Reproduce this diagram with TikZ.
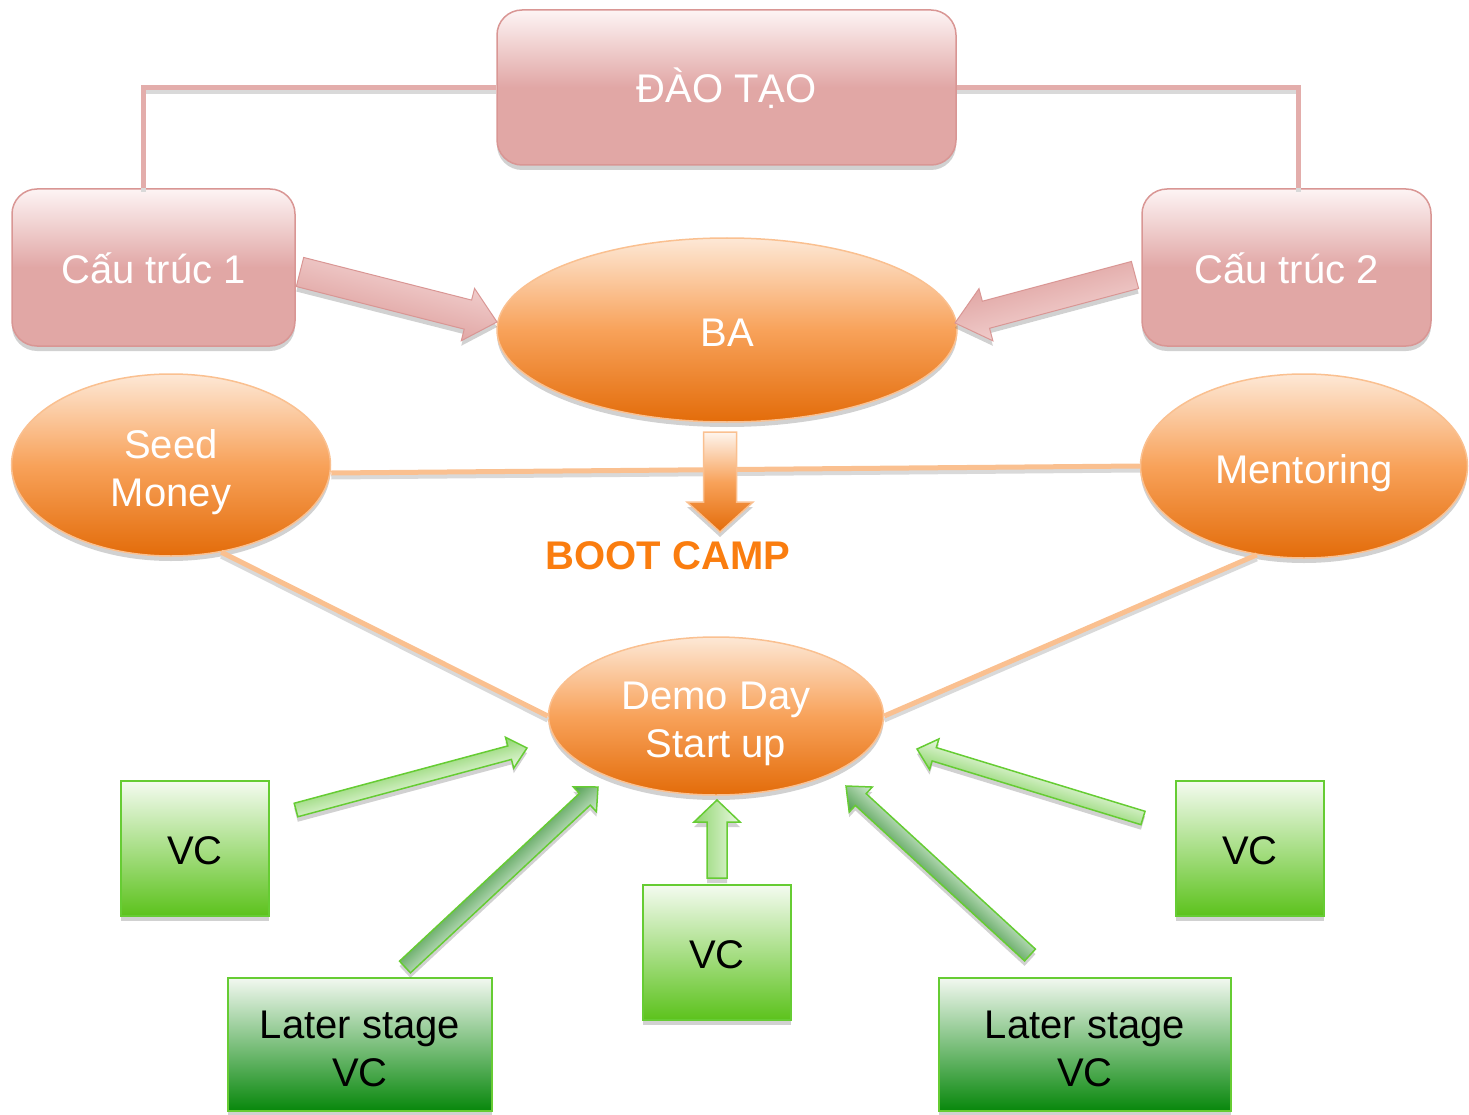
\documentclass[tikz,border=0pt]{standalone}
\usepackage{fontspec}
\setmainfont{Liberation Sans}
\usetikzlibrary{shapes.geometric,shadows,calc}
\definecolor{pinkB}{HTML}{E1A7A5}
\definecolor{pinkT}{HTML}{FDF4F4}
\definecolor{pinkD}{HTML}{D99694}
\definecolor{pinkL}{HTML}{E3ADAB}
\definecolor{pinkA}{HTML}{F0CCCB}
\definecolor{orT}{HTML}{FDE8D6}
\definecolor{orM}{HTML}{F8A25A}
\definecolor{orB}{HTML}{E36C0A}
\definecolor{orL}{HTML}{FAC090}
\definecolor{orA}{HTML}{FEF5EE}
\definecolor{bootc}{HTML}{FA7D0F}
\definecolor{grT}{HTML}{F4FBF0}
\definecolor{grB}{HTML}{5CC21C}
\definecolor{grL}{HTML}{66CC33}
\definecolor{grAD}{HTML}{8ED56D}
\definecolor{grAL}{HTML}{EAF8E2}
\definecolor{dgT}{HTML}{F2F8F0}
\definecolor{dgB}{HTML}{07870B}
\definecolor{dgAD}{HTML}{4F9D4F}
\definecolor{dgAL}{HTML}{D2EAD2}
\pgfdeclareverticalshading{pinkshade}{100bp}{color(0bp)=(pinkB); color(50bp)=(pinkB); color(75bp)=(pinkT); color(100bp)=(pinkT)}
% block arrow: style, start, end, half shaft, half head, head length
\newcommand{\blkarrow}[6]{%
  \pgfpointdiff{\pgfpointanchor{#2}{center}}{\pgfpointanchor{#3}{center}}%
  \pgfgetlastxy{\bdx}{\bdy}%
  \pgfmathsetmacro{\bang}{atan2(\bdy,\bdx)}%
  \pgfmathsetmacro{\blen}{veclen(\bdx,\bdy)}%
  \pgfmathsetmacro{\bhb}{\blen-#6}%
  \pgfmathsetmacro{\bsx}{-5*sin(\bang)}%
  \pgfmathsetmacro{\bsy}{-5*cos(\bang)}%
  \begin{scope}[transform canvas={shift={(#2)},rotate=\bang}]
    \path[drop shadow={shadow xshift=\bsx pt,shadow yshift=\bsy pt,opacity=0.3,fill=black!60},#1]
      (0,-#4) -- (\bhb,-#4) -- (\bhb,-#5) -- (\blen,0) -- (\bhb,#5) -- (\bhb,#4) -- (0,#4) -- cycle;
  \end{scope}}
\begin{document}
\begin{tikzpicture}[x=1pt,y=1pt,
  bigfont/.style={font=\fontsize{40}{48}\selectfont},
  boxshadow/.style={drop shadow={shadow xshift=0pt,shadow yshift=-5pt,opacity=0.3,fill=black!60}},
  pinkbox/.style={rectangle,rounded corners=25pt,draw=pinkD,line width=1.5pt,shading=pinkshade,
    text=white,bigfont,inner sep=0pt,align=center,boxshadow,text height=33pt,text depth=0.4pt},
  orell/.style={ellipse,draw=orL,line width=1.5pt,top color=orT,bottom color=orB,middle color=orM,
    text=white,bigfont,inner sep=0pt,align=center,boxshadow},
  vcbox/.style={rectangle,draw=grL,line width=2pt,top color=grT,bottom color=grB,
    text=black,bigfont,inner sep=0pt,align=center,boxshadow},
  lsbox/.style={vcbox,top color=dgT,bottom color=dgB},
  lshadow/.style={draw=black!15,line width=5pt,transform canvas={yshift=-4pt}},
  pinkline/.style={draw=pinkL,line width=5pt},
  orline/.style={draw=orL,line width=5pt},
  pinkarrow/.style={draw=pinkD,line width=1pt,top color=pinkA,bottom color=pinkB},
  orarrow/.style={draw=orL,line width=1.5pt,left color=orA,right color=orB,middle color=orM},
  garrow/.style={draw=grL,line width=1.5pt,top color=grAD,bottom color=grAL},
  dgarrow/.style={draw=grL,line width=1.5pt,top color=dgAD,bottom color=dgAL},
  boottext/.style={text=bootc,font=\fontsize{40}{48}\selectfont\bfseries,inner sep=0pt}
]
\useasboundingbox (0,0) rectangle (1469,-1115);

% nodes
\node[pinkbox,text height=31pt,minimum width=459pt,minimum height=155pt] (dao) at (726.5,-87.5) {ĐÀO TẠO};
\node[pinkbox,minimum width=283pt,minimum height=157pt] (c1) at (153.5,-267.5) {Cấu trúc 1};
\node[pinkbox,minimum width=289pt,minimum height=157pt] (c2) at (1286.5,-267.5) {Cấu trúc 2};
\node[orell,text height=33pt,text depth=0.4pt,minimum width=460pt,minimum height=184pt] (ba) at (727,-330) {BA};
\node[orell,minimum width=319pt,minimum height=182pt] (seed) at (171,-465) {\rule{0pt}{43pt}Seed\\Money};
\node[orell,text height=35pt,text depth=0.4pt,minimum width=327pt,minimum height=184pt] (ment) at (1304,-466) {Mentoring};
\node[orell,minimum width=335pt,minimum height=158pt] (demo) at (716,-716) {\rule{0pt}{43pt}Demo Day\\Start up};
\node[boottext] (boot) at (668,-556) {BOOT CAMP};
\node[vcbox,text height=33pt,text depth=0.4pt,minimum width=148pt,minimum height=135pt] (vc1) at (195,-848.5) {VC};
\node[vcbox,text height=33pt,text depth=0.4pt,minimum width=148pt,minimum height=135pt] (vc2) at (717,-952.5) {VC};
\node[vcbox,text height=33pt,text depth=0.4pt,minimum width=148pt,minimum height=135pt] (vc3) at (1250,-848.5) {VC};
\node[lsbox,minimum width=264pt,minimum height=133pt] (ls1) at (360,-1044.5) {\rule{0pt}{35.5pt}Later stage\\VC};
\node[lsbox,minimum width=292pt,minimum height=133pt] (ls2) at (1085,-1044.5) {\rule{0pt}{35.5pt}Later stage\\VC};

% connector lines
\draw[lshadow] (dao.west) -| ([xshift=-10pt]c1.north);
\draw[pinkline] (dao.west) -| ([xshift=-10pt]c1.north);
\draw[lshadow] (dao.east) -| ([xshift=12pt]c2.north);
\draw[pinkline] (dao.east) -| ([xshift=12pt]c2.north);
\draw[lshadow] ([yshift=-8pt]seed.east) -- (ment.west);
\draw[orline] ([yshift=-8pt]seed.east) -- (ment.west);
\draw[lshadow] (seed.-60) -- (demo.west);
\draw[orline] (seed.-60) -- (demo.west);
\draw[lshadow] (ment.-118) -- (demo.east);
\draw[orline] (ment.-118) -- (demo.east);

% block arrows
\coordinate (p1s) at (300,-272); \coordinate (p1e) at (497,-322);
\coordinate (p2s) at (1135,-275); \coordinate (p2e) at (955,-323);
\coordinate (bds) at (720,-432); \coordinate (bde) at (720,-532);
\blkarrow{pinkarrow}{p1s}{p1e}{15}{27}{30}
\blkarrow{pinkarrow}{p2s}{p2e}{14}{27}{32}
\blkarrow{orarrow}{bds}{bde}{16.5}{33}{30}

\coordinate (g1s) at (296,-810); \coordinate (g1e) at (527,-748);
\coordinate (g2s) at (405,-967); \coordinate (g2e) at (598,-787);
\coordinate (g3s) at (717,-878); \coordinate (g3e) at (717,-800);
\coordinate (g4s) at (1030,-955); \coordinate (g4e) at (846,-786);
\coordinate (g5s) at (1143,-818); \coordinate (g5e) at (917,-749);
\blkarrow{garrow}{g1s}{g1e}{7}{16}{18}
\blkarrow{dgarrow}{g2s}{g2e}{8}{17}{18}
\blkarrow{garrow}{g3s}{g3e}{10}{23}{22}
\blkarrow{dgarrow}{g4s}{g4e}{8}{17}{20}
\blkarrow{garrow}{g5s}{g5e}{7}{16}{18}
\end{tikzpicture}
\end{document}
